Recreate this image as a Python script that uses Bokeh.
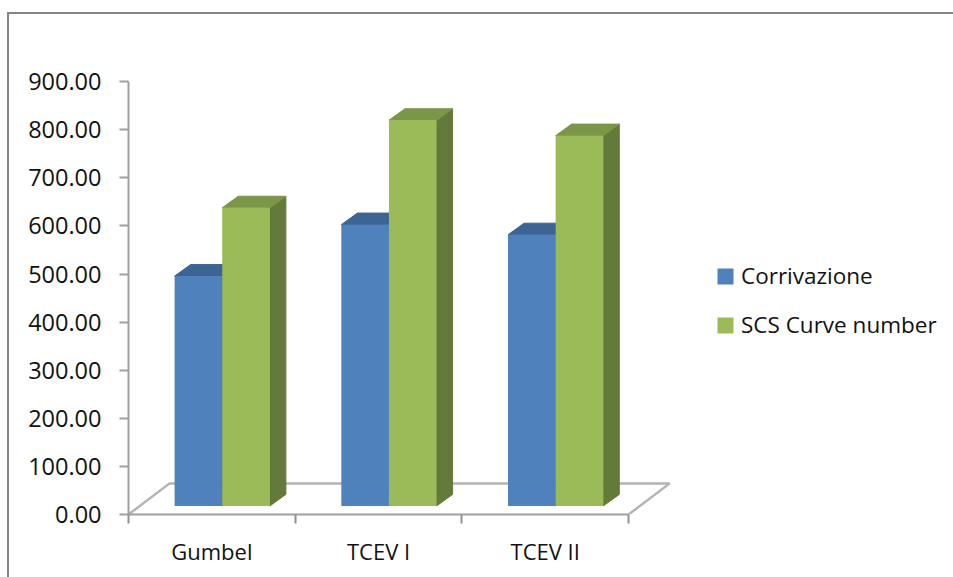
from bokeh.embed import file_html
from bokeh.resources import INLINE
from bokeh.plotting import figure
from bokeh.models import FixedTicker, Legend, LegendItem, LinearAxis, NumeralTickFormatter, Range1d

# Chart data
categories = ["Gumbel", "TCEV I", "TCEV II"]
corrivazione = [478, 585, 564]
scs_curve_number = [620, 802, 770]
y_ticks = [0, 100, 200, 300, 400, 500, 600, 700, 800, 900]

FONT = "Open Sans"
TEXT = "#111111"

# Canvas size and the borders around the plot frame, in pixels
CANVAS_W, CANVAS_H = 944, 563
BORDER_LEFT, BORDER_BOTTOM = 119, 65
FRAME_W = CANVAS_W - BORDER_LEFT
FRAME_H = CANVAS_H - BORDER_BOTTOM

# Pixel scale of the plot frame
PX_X = 166.3            # one category
PX_Y = 0.479            # one value unit

# Pseudo-3D offsets in data units
BAR_INSET = 46 / PX_X
BAR_W = 47.5 / PX_X
BASE = 8.5 / PX_Y
DX = 16 / PX_X
DY = 11.5 / PX_Y
FLOOR_DX = 41 / PX_X
FLOOR_DY = 31 / PX_Y

p = figure(width=CANVAS_W, height=CANVAS_H, output_backend="svg", toolbar_location=None,
           x_axis_location=None, y_axis_location=None,
           x_range=Range1d(0, FRAME_W / PX_X),
           y_range=Range1d(0, FRAME_H / PX_Y),
           min_border_left=BORDER_LEFT, min_border_right=0, min_border_top=0,
           min_border_bottom=BORDER_BOTTOM)
p.grid.visible = False
p.outline_line_color = None
p.background_fill_color = "white"
p.border_fill_color = "white"

# Chart area border: only its top and left edges fall inside the page
p.margin = (12, 0, 0, 7)
p.styles = {"border-top": "2px solid #868686", "border-left": "2px solid #868686",
            "box-sizing": "content-box"}

# Floor of the 3D plot
n = len(categories)
p.line([n, n + FLOOR_DX, FLOOR_DX, 0], [0, FLOOR_DY, FLOOR_DY, 0],
       line_color="#b4b4b4", line_width=2.5)


def draw_series(values, offset, front, top, side):
    for i, v in enumerate(values):
        x0 = i + BAR_INSET + offset * BAR_W
        x1 = x0 + BAR_W
        y1 = BASE + v
        p.patch([x1, x1 + DX, x1 + DX, x1], [BASE, BASE + DY, y1 + DY, y1], color=side)
        p.patch([x0, x1, x1 + DX, x0 + DX], [y1, y1, y1 + DY, y1 + DY], color=top)
    xs = [i + BAR_INSET + offset * BAR_W + BAR_W / 2 for i in range(len(values))]
    return p.vbar(x=xs, width=BAR_W, bottom=BASE, top=[BASE + v for v in values],
                  fill_color=front, line_color=None)


r_blue = draw_series(corrivazione, 0, "#4f81bd", "#3c6595", "#3c6595")
r_green = draw_series(scs_curve_number, 1, "#9bbb59", "#7b9647", "#647a3a")

# Value axis
y_axis = LinearAxis(ticker=FixedTicker(ticks=y_ticks),
                    formatter=NumeralTickFormatter(format="0.00"),
                    bounds=(0, 900), axis_line_color="#a0a0a0", axis_line_width=2,
                    major_tick_line_color="#a0a0a0", major_tick_line_width=2,
                    major_tick_in=0, major_tick_out=9, minor_tick_line_color=None,
                    major_label_standoff=18, major_label_text_font=FONT,
                    major_label_text_font_size="23.5px", major_label_text_color=TEXT)
p.add_layout(y_axis, "left")

# Category axis: labels sit between the tick marks
centers = [i + 0.5 for i in range(n)]
x_axis = LinearAxis(ticker=FixedTicker(ticks=centers, minor_ticks=list(range(n + 1))),
                    major_label_overrides=dict(zip(centers, categories)),
                    bounds=(0, n), axis_line_color="#a0a0a0", axis_line_width=2,
                    major_tick_line_color=None, major_tick_in=0, major_tick_out=0,
                    minor_tick_line_color="#909090", minor_tick_line_width=2,
                    minor_tick_in=0, minor_tick_out=9,
                    major_label_standoff=12, major_label_text_font=FONT,
                    major_label_text_font_size="22px", major_label_text_color=TEXT)
p.add_layout(x_axis, "below")

legend = Legend(items=[LegendItem(label="Corrivazione", renderers=[r_blue]),
                       LegendItem(label="SCS Curve number", renderers=[r_green])],
                location=(587, 174), orientation="vertical", background_fill_alpha=0,
                border_line_color=None, margin=0, padding=0, spacing=18,
                glyph_width=20, glyph_height=20, label_standoff=6,
                label_text_font=FONT, label_text_font_size="22.5px",
                label_text_color=TEXT)
p.add_layout(legend)

open("out.html", "w").write(file_html(p, INLINE))
